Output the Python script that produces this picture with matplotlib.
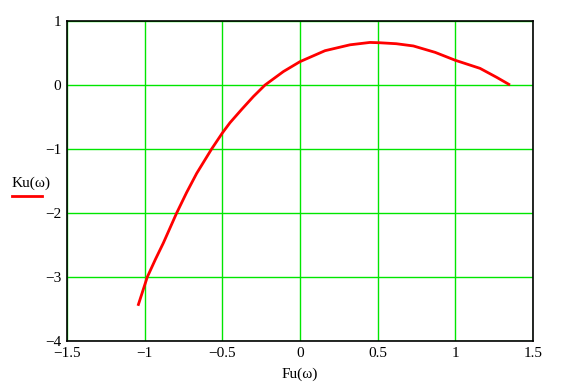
import matplotlib
matplotlib.use("Agg")
import matplotlib.pyplot as plt
from matplotlib.lines import Line2D

# curve
fu = [-1.043, -0.983, -0.93, -0.88, -0.794, -0.73, -0.665, -0.569, -0.5, -0.451,
      -0.375, -0.3, -0.225, -0.107, 0.0, 0.161, 0.322, 0.45, 0.514, 0.62,
      0.73, 0.87, 1.0, 1.159, 1.266, 1.352]
ku = [-3.45, -3.0, -2.72, -2.47, -2.0, -1.68, -1.38, -1.0, -0.75, -0.59,
      -0.38, -0.18, 0.0, 0.21, 0.365, 0.536, 0.628, 0.665, 0.66, 0.645,
      0.61, 0.51, 0.386, 0.26, 0.12, 0.0]

xticks = [-1.5, -1, -0.5, 0, 0.5, 1, 1.5]
yticks = [1, 0, -1, -2, -3, -4]

plt.rcParams['font.family'] = ['Liberation Serif', 'DejaVu Serif']
plt.rcParams['axes.unicode_minus'] = True

fig = plt.figure(figsize=(5.65, 3.89), dpi=100)
ax = fig.add_axes([67 / 565, 48 / 389, 466 / 565, 320 / 389])

ax.plot(fu, ku, color='#ff0000', lw=2, solid_capstyle='butt', solid_joinstyle='round')

ax.set_xlim(-1.5, 1.5)
ax.set_ylim(-4, 1)
ax.set_xticks(xticks)
ax.set_yticks(yticks)
ax.set_xticklabels(['\u22121.5', '\u22121', '\u22120.5', '0', '0.5', '1', '1.5'])
ax.set_yticklabels(['1', '0', '\u22121', '\u22122', '\u22123', '\u22124'])
ax.tick_params(length=0, labelsize=11, pad=4, colors='black')
ax.grid(True, color='#00e600', lw=1)
ax.set_axisbelow(True)
for s in ax.spines.values():
    s.set_linewidth(1.2)
    s.set_color('black')

ax.set_xlabel('Fu(\u03c9)', fontsize=11, labelpad=6)

# y label with legend-like red line under it
fig.text(12 / 565, 1 - 183 / 389, 'Ku(\u03c9)', fontsize=11, ha='left', va='center')
fig.add_artist(Line2D([12 / 565, 42 / 565], [1 - 196 / 389, 1 - 196 / 389],
                      color='#ff0000', lw=2, transform=fig.transFigure))

fig.savefig('out.png', dpi=100)
